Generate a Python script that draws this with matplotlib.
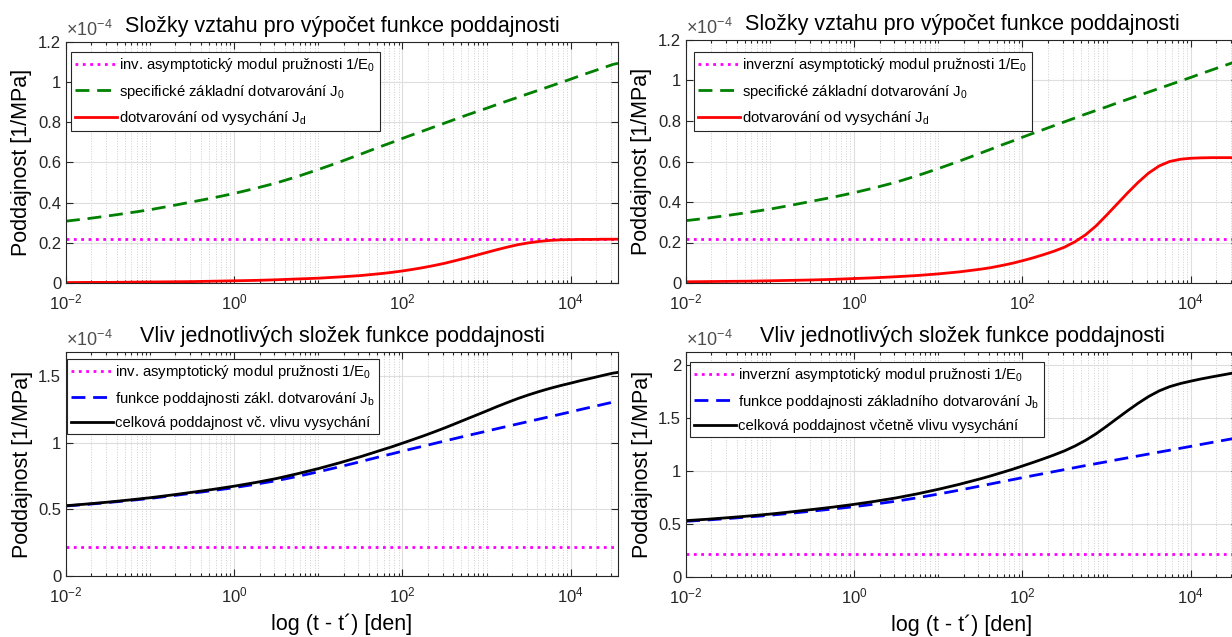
import numpy as np
import matplotlib
matplotlib.use("Agg")
import matplotlib.pyplot as plt
from matplotlib.ticker import FixedLocator, LogLocator, NullFormatter, FuncFormatter, MultipleLocator

plt.rcParams["font.family"] = ["Liberation Sans", "DejaVu Sans"]
plt.rcParams["mathtext.fontset"] = "custom"
plt.rcParams["mathtext.rm"] = "Liberation Sans"
plt.rcParams["mathtext.it"] = "Liberation Sans:italic"
plt.rcParams["mathtext.bf"] = "Liberation Sans:bold"
plt.rcParams["mathtext.default"] = "regular"

# time since loading t - t' [days]
t_days = [0.01, 0.0178, 0.0316, 0.0562, 0.1, 0.178, 0.316, 0.562,
          1.0, 1.78, 3.16, 5.62, 10.0, 17.8,
          31.6, 42.2, 56.2, 75.0, 100.0, 133.0, 178.0, 237.0,
          316.0, 422.0, 562.0, 750.0, 1000.0, 1334.0, 1778.0, 2371.0,
          3162.0, 4217.0, 5623.0, 7499.0, 10000.0, 13335.0, 17783.0, 23714.0,
          31623.0, 36500.0]

# compliance components in 1e-4 1/MPa
inv_E0 = 0.218
J0 = [0.308, 0.320, 0.334, 0.349, 0.365, 0.384, 0.404, 0.424,
      0.446, 0.471, 0.498, 0.530, 0.565, 0.602,
      0.641, 0.661, 0.681, 0.700, 0.720, 0.739, 0.758, 0.777,
      0.796, 0.815, 0.834, 0.852, 0.870, 0.889, 0.907, 0.925,
      0.943, 0.961, 0.979, 0.997, 1.015, 1.034, 1.052, 1.070,
      1.088, 1.094]
# drying creep, moderate drying (left) and strong drying (right)
Jd_left = [0.002, 0.003, 0.003, 0.004, 0.005, 0.006, 0.007, 0.009,
           0.011, 0.013, 0.016, 0.020, 0.024, 0.030,
           0.037, 0.042, 0.047, 0.053, 0.060, 0.068, 0.077, 0.087,
           0.098, 0.111, 0.124, 0.138, 0.152, 0.166, 0.179, 0.191,
           0.200, 0.207, 0.212, 0.215, 0.216, 0.217, 0.217, 0.218,
           0.218, 0.218]
Jd_right = [0.006, 0.007, 0.008, 0.009, 0.011, 0.013, 0.015, 0.018,
            0.022, 0.026, 0.031, 0.037, 0.045, 0.055,
            0.068, 0.076, 0.086, 0.097, 0.110, 0.124, 0.140, 0.157,
            0.177, 0.204, 0.238, 0.282, 0.335, 0.390, 0.445, 0.497,
            0.543, 0.578, 0.600, 0.611, 0.616, 0.618, 0.619, 0.619,
            0.619, 0.619]

title_top = "Složky vztahu pro výpočet funkce poddajnosti"
title_bot = "Vliv jednotlivých složek funkce poddajnosti"
xlabel = "log (t - t´) [den]"
ylabel = "Poddajnost [1/MPa]"

labels_top_left = ["inv. asymptotický modul pružnosti 1/E$_0$",
                   "specifické základní dotvarování J$_0$",
                   "dotvarování od vysychání J$_d$"]
labels_top_right = ["inverzní asymptotický modul pružnosti 1/E$_0$",
                    "specifické základní dotvarování J$_0$",
                    "dotvarování od vysychání J$_d$"]
labels_bot_left = ["inv. asymptotický modul pružnosti 1/E$_0$",
                   "funkce poddajnosti zákl. dotvarování J$_b$",
                   "celková poddajnost vč. vlivu vysychání"]
labels_bot_right = ["inverzní asymptotický modul pružnosti 1/E$_0$",
                    "funkce poddajnosti základního dotvarování J$_b$",
                    "celková poddajnost včetně vlivu vysychání"]

t = np.array(t_days)
q1 = np.full(t.size, inv_E0)
J0_arr = np.array(J0)
Jb = q1 + J0_arr

W, H = 1232, 637
fig = plt.figure(figsize=(W / 100, H / 100), dpi=100)
AX_COLOR = "#262626"


def make_axes(left, top, right, bottom):
    return fig.add_axes([left / W, 1 - bottom / H, (right - left) / W, (bottom - top) / H])


def style(ax, ymax, ystep, legend_xy, labels, show_xlabel):
    ax.set_xscale("log")
    ax.set_xlim(t[0], t[-1])
    ax.set_ylim(0, ymax)
    ax.xaxis.set_major_locator(FixedLocator([1e-2, 1e0, 1e2, 1e4]))
    ax.xaxis.set_minor_locator(LogLocator(base=10, subs=np.arange(1, 10), numticks=50))
    ax.xaxis.set_minor_formatter(NullFormatter())
    ax.yaxis.set_major_locator(MultipleLocator(ystep))
    ax.yaxis.set_major_formatter(FuncFormatter(lambda v, p: f"{v:g}"))
    ax.tick_params(which="both", direction="in", top=True, right=True,
                   colors=AX_COLOR, labelsize=12, width=0.8)
    ax.tick_params(which="major", length=5)
    ax.tick_params(which="minor", length=2.5)
    ax.tick_params(axis="x", which="major", pad=7)
    for s in ax.spines.values():
        s.set_color(AX_COLOR)
        s.set_linewidth(0.8)
    ax.grid(True, which="major", color="#dedede", linewidth=0.8)
    ax.grid(True, which="minor", axis="x", color="#cfcfcf", linestyle=":", linewidth=0.7)
    ax.set_axisbelow(True)
    ax.set_ylabel(ylabel, fontsize=15.5, color="#000000")
    if show_xlabel:
        ax.set_xlabel(xlabel, fontsize=15.5, color="#000000", labelpad=6)
    ax.text(0.0, 1.01, "×10$^{-4}$", transform=ax.transAxes, ha="left", va="bottom",
            fontsize=13, color="#4d4d4d")
    leg = ax.legend(labels, loc="upper left",
                    bbox_to_anchor=(legend_xy[0] / W, 1 - legend_xy[1] / H),
                    bbox_transform=fig.transFigure, borderaxespad=0,
                    fontsize=10.7, frameon=True, fancybox=False, framealpha=1,
                    edgecolor=AX_COLOR, borderpad=0.3, labelspacing=0.55,
                    handlelength=2.8, handletextpad=0.15)
    leg.get_frame().set_linewidth(0.8)


def plot_components(ax, Jd):
    ax.plot(t, q1, color="#ff00ff", linestyle=":", linewidth=2)
    ax.plot(t, J0_arr, color="#008000", linewidth=2, dashes=(5, 2.8))
    ax.plot(t, Jd, color="#ff0000", linewidth=2)


def plot_totals(ax, Jd):
    total = Jb + np.array(Jd)
    ax.plot(t, q1, color="#ff00ff", linestyle=":", linewidth=2)
    ax.plot(t, Jb, color="#0000ff", linewidth=2, dashes=(5, 2.8))
    ax.plot(t, total, color="#000000", linewidth=2)
    return total.max()


# top row: components of the compliance function
ax1 = make_axes(66, 42, 618, 283)
plot_components(ax1, Jd_left)
style(ax1, 1.2, 0.2, (71, 52), labels_top_left, False)
ax1.set_title(title_top, fontsize=15.5, pad=7)

ax2 = make_axes(686, 40, 1238, 283)
plot_components(ax2, Jd_right)
style(ax2, 1.2, 0.2, (694, 52), labels_top_right, False)
ax2.set_title(title_top, fontsize=15.5, pad=7)

# bottom row: total compliance
ax3 = make_axes(66, 352, 618, 576)
m3 = plot_totals(ax3, Jd_left)
style(ax3, 1.1 * m3, 0.5, (67, 359), labels_bot_left, True)
ax3.set_title(title_bot, fontsize=15.5, pad=7)

ax4 = make_axes(686, 352, 1238, 577)
m4 = plot_totals(ax4, Jd_right)
style(ax4, 1.1 * m4, 0.5, (690, 362), labels_bot_right, True)
ax4.set_title(title_bot, fontsize=15.5, pad=7)

fig.savefig("out.png", dpi=100)
